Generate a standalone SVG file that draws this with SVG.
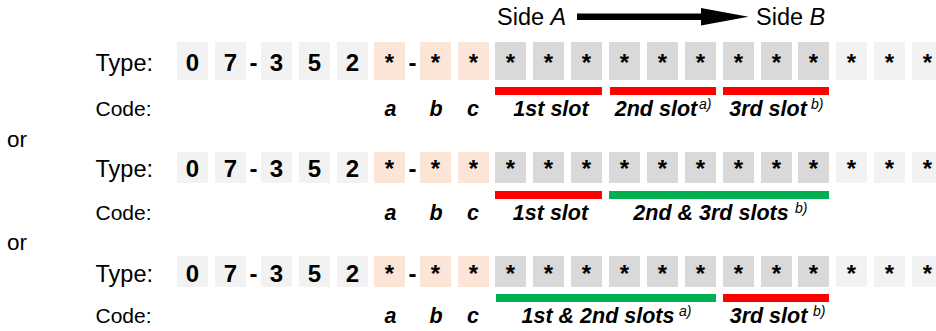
<svg xmlns="http://www.w3.org/2000/svg" width="936" height="331" viewBox="0 0 936 331">
<style>
text{font-family:"Liberation Sans",Arial,sans-serif;fill:#000}
.ty{font-size:23.5px}
.cd{font-size:21px}
.or{font-size:22.5px}
.d{font-size:24px;font-weight:bold;text-anchor:middle}
.lb{font-size:21.5px;font-weight:bold;font-style:italic;text-anchor:middle}
.sp{font-size:14px;font-style:italic}
.sd{font-size:23.5px}
.l{fill:#F2F2F2}
.g{fill:#D9D9D9}
.p{fill:#FBE5D6}
.r{fill:#FF0000}
.gr{fill:#00B050}
</style>
<defs>
<g id="boxes1">
<rect class="l" x="177" width="31" height="38"/><rect class="l" x="215" width="31" height="38"/>
<rect class="l" x="261" width="31" height="38"/><rect class="l" x="299" width="31" height="38"/>
<rect class="l" x="337" width="31" height="38"/>
<rect class="p" x="374" width="31" height="38"/><rect class="p" x="420" width="31" height="38"/><rect class="p" x="458" width="31" height="38"/>
<rect class="g" x="495" width="31" height="38"/><rect class="g" x="533" width="31" height="38"/><rect class="g" x="571" width="31" height="38"/>
<rect class="g" x="609" width="31" height="38"/><rect class="g" x="647" width="31" height="38"/><rect class="g" x="685" width="31" height="38"/>
<rect class="g" x="723" width="31" height="38"/><rect class="g" x="761" width="31" height="38"/><rect class="g" x="798" width="31" height="38"/>
<rect class="l" x="836" width="31" height="38"/><rect class="l" x="874" width="31" height="38"/><rect class="l" x="912" width="31" height="38"/>
</g>
<g id="boxes2">
<rect class="l" x="177" width="31" height="31"/><rect class="l" x="215" width="31" height="31"/>
<rect class="l" x="261" width="31" height="31"/><rect class="l" x="299" width="31" height="31"/>
<rect class="l" x="337" width="31" height="31"/>
<rect class="p" x="374" width="31" height="31"/><rect class="p" x="420" width="31" height="31"/><rect class="p" x="458" width="31" height="31"/>
<rect class="g" x="495" width="31" height="31"/><rect class="g" x="533" width="31" height="31"/><rect class="g" x="571" width="31" height="31"/>
<rect class="g" x="609" width="31" height="31"/><rect class="g" x="647" width="31" height="31"/><rect class="g" x="685" width="31" height="31"/>
<rect class="g" x="723" width="31" height="31"/><rect class="g" x="761" width="31" height="31"/><rect class="g" x="798" width="31" height="31"/>
<rect class="l" x="836" width="31" height="31"/><rect class="l" x="874" width="31" height="31"/><rect class="l" x="912" width="31" height="31"/>
</g>
<g id="chars">
<text class="ty" x="95.5">Type:</text>
<text class="d" x="192.5">0</text><text class="d" x="230.5">7</text><text class="d" x="253.5">-</text>
<text class="d" x="276.5">3</text><text class="d" x="314.5">5</text><text class="d" x="352.5">2</text>
<text class="d" x="389.5">*</text><text class="d" x="412.5">-</text><text class="d" x="435.5">*</text><text class="d" x="473.5">*</text>
<text class="d" x="510.5">*</text><text class="d" x="548.5">*</text><text class="d" x="586.5">*</text>
<text class="d" x="624.5">*</text><text class="d" x="662.5">*</text><text class="d" x="700.5">*</text>
<text class="d" x="738.5">*</text><text class="d" x="776.5">*</text><text class="d" x="813.5">*</text>
<text class="d" x="851.5">*</text><text class="d" x="889.5">*</text><text class="d" x="927.5">*</text>
</g>
<g id="abc">
<text class="cd" x="95.5">Code:</text>
<text class="lb" x="390.5">a</text><text class="lb" x="436">b</text><text class="lb" x="473">c</text>
</g>
</defs>

<g id="connectors">
<rect x="577" y="13.5" width="126" height="6.5" fill="#000"/>
<polygon points="701,8 748.5,16.75 701,25.5" fill="#000"/>
</g>
<g id="side-labels">
<text class="sd" x="497" y="25">Side <tspan font-style="italic">A</tspan></text>
<text class="sd" x="756" y="25">Side <tspan font-style="italic">B</tspan></text>
</g>

<g id="row1">
<use href="#boxes1" y="42"/>
<use href="#chars" y="71"/>
<rect class="r" x="495" y="87" width="107" height="8"/>
<rect class="r" x="610" y="87" width="106" height="8"/>
<rect class="r" x="723" y="87" width="106" height="8"/>
<use href="#abc" y="116"/>
<text class="lb" x="551" y="116">1st slot</text>
<text class="lb" x="656" y="116">2nd slot</text><text class="sp" x="699" y="109">a)</text>
<text class="lb" x="768" y="116">3rd slot</text><text class="sp" x="811" y="109">b)</text>
</g>

<g id="or1"><text class="or" x="7" y="146.5">or</text></g>

<g id="row2">
<use href="#boxes2" y="152"/>
<use href="#chars" y="176.5"/>
<rect class="r" x="495" y="191" width="107" height="8"/>
<rect class="gr" x="609" y="191" width="220" height="8"/>
<use href="#abc" y="219.5"/>
<text class="lb" x="550.5" y="219.5">1st slot</text>
<text class="lb" x="711" y="219.5">2nd &amp; 3rd slots</text><text class="sp" x="795" y="212.5">b)</text>
</g>

<g id="or2"><text class="or" x="7" y="250">or</text></g>

<g id="row3">
<use href="#boxes2" y="256"/>
<use href="#chars" y="281.5"/>
<rect class="gr" x="496" y="294" width="220" height="8"/>
<rect class="r" x="723" y="294" width="106" height="8"/>
<use href="#abc" y="322.5"/>
<text class="lb" x="598" y="322.5">1st &amp; 2nd slots</text><text class="sp" x="679" y="315.5">a)</text>
<text class="lb" x="768.5" y="322.5">3rd slot</text><text class="sp" x="813" y="315.5">b)</text>
</g>
</svg>
